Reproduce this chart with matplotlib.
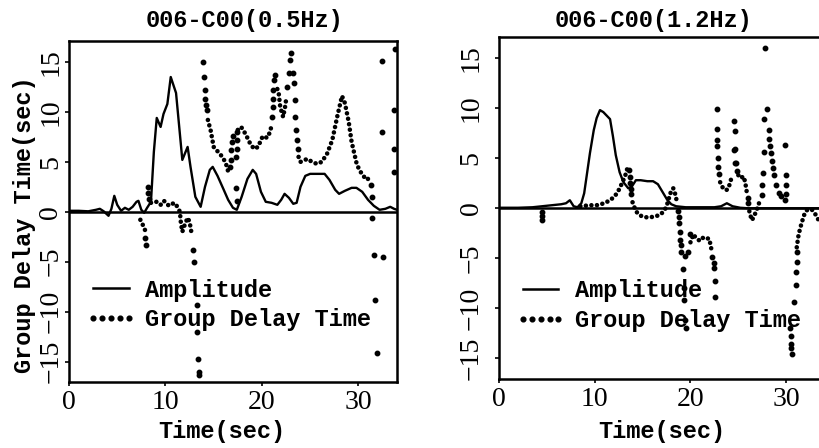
import numpy as np
import matplotlib
matplotlib.use("Agg")
import matplotlib.pyplot as plt
from matplotlib.lines import Line2D

nan = np.nan

# ---------- left panel: 006-C00 (0.5Hz) ----------
amp_l_x = [0, 1, 2, 2.8, 3.2, 3.6, 4.1, 4.4, 4.7, 5.0, 5.4, 5.8, 6.2, 6.6, 7.0, 7.2, 7.5, 7.8, 8.1, 8.5,
           8.8, 9.1, 9.5, 9.8, 10.2, 10.55, 11.1, 11.75, 12.3, 12.6, 13.1, 13.65, 14.1, 14.6, 14.9, 15.4,
           16.0, 16.5, 17.0, 17.4, 17.9, 18.5, 19.05, 19.4, 19.9, 20.4, 21.0, 21.6, 22.0, 22.35, 22.8,
           23.25, 23.6, 24.0, 24.5, 25.0, 26.5, 27.0, 27.6, 28.0, 28.6, 29.3, 29.8, 30.4, 31.0, 31.6,
           32.2, 32.8, 33.3, 33.7, 34]
amp_l_y = [0.1, 0.1, 0.05, 0.2, 0.3, 0.05, -0.4, 0.3, 1.6, 0.7, 0.1, 0.4, 0.2, 0.5, 1.0, 1.1, 0.2, -0.1, 0.4, 1.0,
           6.0, 9.4, 8.5, 9.8, 10.8, 13.5, 11.9, 5.2, 6.5, 4.5, 1.5, 0.5, 2.5, 4.2, 4.5, 3.6,
           2.3, 1.2, 0.4, 0.2, 1.5, 3.3, 4.2, 3.8, 2.0, 1.0, 0.9, 0.7, 1.2, 1.8, 1.4,
           0.8, 0.9, 2.5, 3.6, 3.8, 3.8, 3.2, 2.2, 1.8, 2.1, 2.4, 2.4, 2.0, 1.2, 0.6,
           0.2, 0.3, 0.5, 0.3, 0.2]

# group delay, densely sampled stretches (nan = break)
gd_l_x = [7.4, 7.7, 8.0, nan,
          8.5, 8.8, 9.15, 9.5, 9.85, 10.1, 10.4, 10.9, 11.25, 11.5, 11.6, 11.75, 12.0, 12.3, 12.5, 12.7, nan,
          14.4, 14.7, 15.0, 15.55, 15.9, 16.25, 16.6, nan,
          17.5, 17.85, 18.3, 18.8, 19.2, 19.6, 20.0, 20.3, 20.5, 20.8, 21.0, nan,
          21.6, 21.75, 21.9, 22.2, 22.4, 22.55, nan,
          23.8, 24.0, 24.7, 25.2, 25.7, 26.2, 26.75, 27.3, 27.8, 28.3, 28.6, 29.0, 29.3, 29.85, 30.4, 30.9, 31.2]
gd_l_y = [-0.8, -1.4, -2.1, nan,
          0.9, 1.0, 1.0, 0.7, 1.1, 0.8, 0.6, 0.9, 0.5, 0.0, -1.1, -2.0, -1.3, -0.6, -1.0, -2.1, nan,
          9.2, 8.1, 6.5, 5.9, 5.5, 4.9, 3.7, nan,
          8.2, 8.5, 7.8, 6.8, 6.3, 6.5, 7.4, 7.6, 7.4, 7.9, 8.6, nan,
          12.3, 11.8, 10.5, 9.5, 10.5, 11.5, nan,
          5.5, 5.0, 5.3, 5.0, 4.8, 5.0, 5.8, 7.2, 9.5, 11.6, 10.9, 9.0, 7.0, 4.7, 3.7, 3.2, 3.5]

# group delay, isolated dots
dot_l_x = [7.9, 8.0, 8.2, 8.2, 8.3,
           12.85, 13.0, 13.25, 13.3, 13.35, 13.45, 13.45,
           13.85, 14.0, 14.1, 14.15, 14.2, 14.3,
           16.7, 16.75, 16.8, 16.9, 17.0,
           17.35, 17.4, 17.35, 17.4, 17.4, 17.45,
           21.05, 21.1, 21.15, 21.2, 21.3, 21.4,
           22.65, 22.8, 22.9, 23.0,
           23.25, 23.3, 23.4, 23.45, 23.55, 23.6, 23.7,
           31.3, 31.4, 31.45, 31.6, 31.75, 31.9,
           32.5, 32.5, 32.6,
           33.75, 33.7, 33.7, 33.7]
dot_l_y = [-2.6, -3.3, 2.5, 1.9, 1.3,
           -3.8, -5.0, -9.3, -12.0, -14.7, -16.0, -16.3,
           15.0, 13.5, 12.2, 11.3, 10.7, 10.2,
           4.5, 5.2, 6.2, 7.0, 7.6,
           2.4, 1.1, 5.5, 6.3, 7.2, 8.0,
           9.5, 10.5, 11.3, 12.2, 13.2, 13.7,
           12.5, 13.9, 15.2, 15.9,
           13.9, 12.9, 11.2, 9.5, 8.2, 7.2, 6.3,
           2.7, 1.5, -0.6, -4.3, -8.8, -14.1,
           15.1, 8.0, -4.5,
           16.3, 10.2, 6.3, 4.0]

# ---------- right panel: 006-C00 (1.2Hz) ----------
amp_r_x = [0, 2, 3.5, 4.5, 5.5, 6.5, 7.0, 7.4, 7.8, 8.2, 8.6, 8.9, 9.2, 9.5, 9.9, 10.2, 10.55, 10.9, 11.3, 11.6,
           11.9, 12.2, 12.6, 13.0, 13.5, 13.9, 14.3, 14.8, 15.5, 16.1, 16.6, 17.1, 17.6, 18.0, 18.5, 19.5,
           21.0, 22.5, 23.2, 23.8, 24.4, 25.2, 26.0, 34]
amp_r_y = [0.05, 0.05, 0.1, 0.2, 0.3, 0.4, 0.5, 0.8, 0.2, 0.1, 0.5, 1.5, 3.5, 5.5, 7.8, 9.0, 9.8, 9.6, 9.2, 8.9,
           7.2, 5.3, 3.6, 2.6, 2.0, 2.2, 2.8, 2.8, 2.7, 2.7, 2.4, 1.6, 0.8, 0.4, 0.2, 0.1,
           0.1, 0.1, 0.2, 0.5, 0.2, 0.05, 0.0, 0.0]

gd_r_x = [8.5, 9.5, 10.2, 11.0, 11.6, 12.1, 12.5, 12.9, 13.2, 13.5, nan,
          13.95, 14.3, 14.7, 15.2, 15.8, 16.4, 16.9, 17.3, 17.6, 17.9, 18.2, 18.45, 18.6, nan,
          20.0, 20.3, 20.6, 20.9, 21.2, 21.5, 21.9, 22.1, 22.2, nan,
          23.1, 23.4, 23.7, 23.9, 24.1, 24.3, nan,
          25.0, 25.3, 25.5, 25.7, 25.9, nan,
          26.15, 26.4, 26.6, 26.9, 27.1, 27.3, nan,
          31.1, 31.3, 31.6, 31.9, 32.15, 32.65, 33.2, 33.5, 33.8]
gd_r_y = [0.2, 0.3, 0.3, 0.5, 0.8, 1.2, 1.8, 2.6, 3.3, 4.3, nan,
          0.6, -0.3, -0.7, -0.9, -0.9, -0.8, -0.6, -0.2, 0.5, 1.5, 2.0, 1.3, 0.5, nan,
          -3.4, -2.6, -3.0, -3.2, -2.9, -3.1, -3.0, -3.6, -4.2, nan,
          2.6, 2.0, 1.8, 1.9, 2.4, 3.1, nan,
          3.3, 3.0, 3.2, 2.7, 1.5, nan,
          -0.3, -1.2, -0.9, -0.2, 0.3, 1.0, nan,
          -3.9, -2.6, -1.5, -0.6, -0.2, -0.1, -0.8, -1.5, -2.5]

dot_r_x = [4.45, 4.45, 4.45,
           13.6, 13.65, 13.7, 13.75, 13.8,
           18.75, 18.8, 18.85, 18.9, 18.95, 19.0, 19.05, 19.2, 19.3, 19.35, 19.45, 19.5, 19.4, 19.75, 19.9,
           22.3, 22.45, 22.5, 22.55, 22.6,
           22.75, 22.8, 22.75, 22.8, 22.85, 22.9, 23.0,
           24.55, 24.6, 24.6, 24.5, 24.6, 24.8, 24.85,
           26.0, 26.05,
           27.45, 27.5, 27.55, 27.65, 27.7, 27.75, 27.95, 28.2, 28.25, 28.3, 28.4, 28.5, 28.6, 28.7, 28.95,
           29.2, 29.5, 29.9, 29.9, 29.95, 29.95, 30.0,
           30.4, 30.5, 30.55, 30.5, 30.6, 30.8, 31.0, 31.05, 31.1, 31.1]
dot_r_y = [-0.4, -0.8, -1.2,
           3.8, 3.1, 2.5, 1.9, 1.4,
           -0.3, -0.9, -1.5, -2.4, -3.2, -3.7, -4.4, -6.1, -8.0, -9.2, -11.2, -12.0, -4.8, -4.4, -2.6,
           -4.9, -5.5, -6.0, -7.3, -8.9,
           9.9, 7.9, 6.8, 6.2, 5.0, 4.1, 3.4,
           8.7, 7.7, 5.9, 5.8, 4.5, 4.5, 3.7,
           1.0, 0.5,
           1.3, 2.3, 3.5, 5.6, 8.9, 16.0, 9.9, 7.8, 6.9, 6.2, 5.5, 4.7, 4.0, 3.3, 2.3,
           1.5, 1.2, 0.8, 6.3, 3.3, 2.3, 1.4,
           -12.0, -12.8, -13.6, -14.0, -14.6, -9.4, -7.7, -6.4, -5.4, -4.4]

titles = ["006-C00(0.5Hz)", "006-C00(1.2Hz)"]
yticks = [-15, -10, -5, 0, 5, 10, 15]
xticks = [0, 10, 20, 30]

MONO = "Liberation Mono"
SERIF = "Liberation Serif"

fig = plt.figure(figsize=(8.2, 4.48), dpi=100)
ax1 = fig.add_axes([0.0841, 0.1473, 0.400, 0.761])
ax2 = fig.add_axes([0.6085, 0.154, 0.397, 0.7634])


def draw(ax, ax_, ay_, gx, gy, dx, dy, ypad, leg_y):
    ax.axhline(0, color="k", lw=1.8, zorder=1)
    ax.plot(ax_, ay_, color="k", lw=1.7, zorder=3)
    ax.plot(gx, gy, color="k", lw=3.3, linestyle=(0, (0.01, 1.2)),
            dash_capstyle="round", zorder=3)
    ax.plot(dx, dy, ls="none", marker="o", ms=3.2, color="k", zorder=3)
    ax.set_xlim(0, 34)
    ax.set_ylim(-17.05, 17.1)
    ax.set_xticks(xticks)
    ax.set_yticks(yticks)
    ax.tick_params(direction="out", length=3, width=1.2)
    ax.tick_params(axis="x", pad=3, labelsize=20)
    ax.tick_params(axis="y", pad=ypad, labelsize=20, labelrotation=90)
    for lbl in ax.get_xticklabels() + ax.get_yticklabels():
        lbl.set_family(SERIF)
    for lbl in ax.get_yticklabels():
        lbl.set_va("center")
    for sp in ax.spines.values():
        sp.set_linewidth(1.8)
    handles = [Line2D([], [], color="k", lw=1.8),
               Line2D([], [], ls="none", marker="o", ms=3.4, color="k")]
    ax.legend(handles, ["Amplitude", "Group Delay Time"], loc="upper left",
              bbox_to_anchor=(0.052, leg_y), frameon=False, numpoints=5,
              handlelength=2.1, handletextpad=0.4, labelspacing=0.28,
              borderpad=0, borderaxespad=0,
              prop={"family": MONO, "size": 17, "weight": "bold"})


draw(ax1, amp_l_x, amp_l_y, gd_l_x, gd_l_y, dot_l_x, dot_l_y, 1, 0.303)
draw(ax2, amp_r_x, amp_r_y, gd_r_x, gd_r_y, dot_r_x, dot_r_y, 8, 0.291)

txt = dict(ha="center", va="center", family=MONO, fontsize=17, weight="bold")
fig.text(245 / 820, 1 - 21 / 448, titles[0], **txt)
fig.text(654 / 820, 1 - 20 / 448, titles[1], **txt)
fig.text(222 / 820, 1 - 431 / 448, "Time(sec)", **txt)
fig.text(662 / 820, 1 - 431 / 448, "Time(sec)", **txt)
fig.text(25 / 820, 1 - 225 / 448, "Group Delay Time(sec)", rotation=90, **txt)

fig.savefig("out.png", dpi=100)
